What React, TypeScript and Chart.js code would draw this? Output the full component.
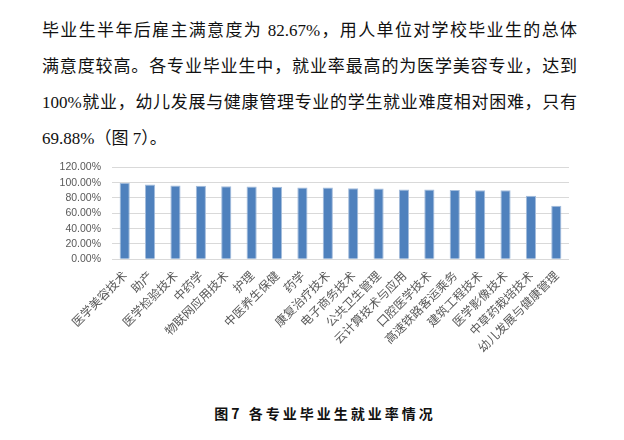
import React, { useEffect, useRef } from "react";
import { Chart, registerables } from "chart.js";

Chart.register(...registerables);

const categories: string[] = [
  "医学美容技术",
  "助产",
  "医学检验技术",
  "中药学",
  "物联网应用技术",
  "护理",
  "中医养生保健",
  "药学",
  "康复治疗技术",
  "电子商务技术",
  "公共卫生管理",
  "云计算技术与应用",
  "口腔医学技术",
  "高速铁路客运乘务",
  "建筑工程技术",
  "医学影像技术",
  "中草药栽培技术",
  "幼儿发展与健康管理",
];

const employmentRate: number[] = [
  100, 97.6, 96.4, 96.0, 95.3, 95.0, 94.5, 93.6, 93.6, 92.8, 92.4, 91.0, 91.0,
  90.5, 90.2, 90.0, 83.0, 69.88,
];

const yTicks: number[] = [0, 20, 40, 60, 80, 100, 120];

const paragraphLines: string[] = [
  "毕业生半年后雇主满意度为 82.67%，用人单位对学校毕业生的总体",
  "满意度较高。各专业毕业生中，就业率最高的为医学美容专业，达到",
  "100%就业，幼儿发展与健康管理专业的学生就业难度相对困难，只有",
  "69.88%（图 7）。",
];

const caption = "图7 各专业毕业生就业率情况";

const CANVAS_W = 624;
const CANVAS_H = 250;

export default function App() {
  const canvasRef = useRef<HTMLCanvasElement | null>(null);

  useEffect(() => {
    const canvas = canvasRef.current;
    if (!canvas) return;
    const chart = new Chart(canvas, {
      type: "bar",
      data: {
        labels: categories,
        datasets: [
          {
            data: employmentRate,
            backgroundColor: "#4F81BD",
            borderColor: "#A3BCDC",
            borderWidth: 1,
            barPercentage: 0.4,
            categoryPercentage: 1,
          },
        ],
      },
      options: {
        animation: false,
        responsive: false,
        maintainAspectRatio: false,
        layout: { padding: { top: 11.7, right: 55, left: 0, bottom: 0 } },
        plugins: {
          legend: { display: false },
          tooltip: { enabled: false },
        },
        scales: {
          x: {
            grid: { display: false, drawTicks: false },
            border: { display: false },
            ticks: {
              autoSkip: false,
              maxRotation: 45,
              minRotation: 45,
              padding: 9,
              color: "#595959",
              font: { family: "'Noto Sans CJK SC', sans-serif", size: 12 },
            },
            afterFit: (scale: any) => {
              scale.height = CANVAS_H - 109.3;
            },
          },
          y: {
            min: 0,
            max: 120,
            afterBuildTicks: (scale: any) => {
              scale.ticks = yTicks.map((v) => ({ value: v }));
            },
            grid: { color: "#D9D9D9", lineWidth: 1, drawTicks: false },
            border: { display: false },
            ticks: {
              autoSkip: false,
              padding: 11,
              color: "#595959",
              font: { family: "'Liberation Sans', sans-serif", size: 10.5 },
              callback: (v: any) => Number(v).toFixed(2) + "%",
            },
            afterFit: (scale: any) => {
              scale.width = 112;
            },
          },
        },
      },
    });
    return () => chart.destroy();
  }, []);

  return (
    <div
      style={{
        position: "fixed",
        left: 0,
        top: 0,
        width: 624,
        height: 440,
        background: "#fff",
        overflow: "hidden",
      }}
    >
      <div
        style={{
          position: "absolute",
          left: 42,
          top: 13,
          width: 535,
          fontFamily: "'Liberation Serif', 'Noto Sans CJK SC', serif",
          fontSize: 17,
          lineHeight: "36px",
          color: "#111",
        }}
      >
        {paragraphLines.map((line, i) => (
          <div
            key={i}
            style={{
              whiteSpace: "nowrap",
              textAlign: i < paragraphLines.length - 1 ? "justify" : "left",
              textAlignLast: i < paragraphLines.length - 1 ? "justify" : "left",
            }}
          >
            {line}
          </div>
        ))}
      </div>
      <canvas
        ref={canvasRef}
        width={CANVAS_W}
        height={CANVAS_H}
        style={{
          position: "absolute",
          left: 0,
          top: 150,
          width: CANVAS_W,
          height: CANVAS_H,
        }}
      />
      <div
        style={{
          position: "absolute",
          left: 0,
          top: 403,
          width: 650,
          textAlign: "center",
          fontFamily: "'Noto Sans CJK SC', sans-serif",
          fontWeight: 700,
          fontSize: 14,
          letterSpacing: 3,
          color: "#111",
          lineHeight: "20px",
        }}
      >
        {caption}
      </div>
    </div>
  );
}
